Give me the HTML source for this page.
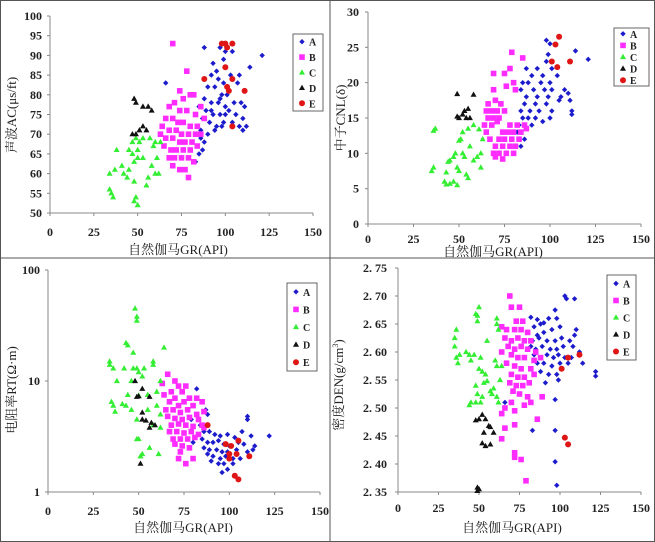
<!DOCTYPE html>
<html><head><meta charset="utf-8"><style>
html,body{margin:0;padding:0;background:#fff;}
svg{display:block;font-family:"Liberation Serif","Noto Serif CJK SC",serif;}
.tk{font-size:12px;font-weight:bold;fill:#222;}
.tt{font-size:13px;fill:#222;}
.lg{font-size:10px;font-weight:bold;fill:#222;}
</style></head><body>
<svg id="c" width="655" height="542" viewBox="0 0 655 542" xmlns="http://www.w3.org/2000/svg">
<rect x="0.5" y="0.5" width="654" height="541" fill="#fff" stroke="#555"/>
<line x1="330" y1="0" x2="330" y2="542" stroke="#555"/>
<line x1="0" y1="258" x2="655" y2="258" stroke="#555"/>
</svg>
<script>
const groups=['A','B','C','D','E'];
const xTicks=['0','25','50','75','100','125','150'];
const acTicks=['100','95','90','85','80','75','70','65','60','55','50'];
const cnlTicks=['30','25','20','15','10','5','0'];
const rtTicks=['100','10','1'];
const denTicks=['2. 75','2. 70','2. 65','2. 60','2. 55','2. 50','2. 45','2. 40','2. 35'];

const acA=[[88,92],[97,92],[100,91],[104,91],[99,89],[93,88],[95,86],[92,85],[96,84],[99,83],[103,85],[108,85],[107,83],[90,82],[94,82],[98,80],[101,80],[88,79],[92,78],[96,78],[100,77],[105,78],[109,78],[85,77],[89,76],[93,75],[97,75],[102,76],[106,75],[110,74],[87,74],[91,73],[95,72],[99,73],[104,73],[108,72],[112,72],[86,71],[90,70],[94,71],[98,72],[110,71],[88,68],[87,66],[85,65],[83,63],[121,90],[114,87],[97,79],[100,75],[92,76],[84,72],[86,69],[111,77],[66,83]];
const acB=[[70,93],[78,86],[74,81],[80,80],[82,80],[76,79],[71,78],[68,77],[74,76],[78,76],[83,75],[66,74],[70,74],[73,73],[76,73],[80,72],[84,72],[64,72],[68,71],[72,71],[75,70],[79,70],[83,70],[86,70],[66,69],[70,69],[74,68],[77,68],[81,68],[65,67],[69,66],[72,66],[76,66],[80,66],[84,67],[68,64],[71,64],[75,64],[79,64],[70,62],[74,61],[77,61],[82,63],[79,59],[63,70],[88,74],[86,77]];
const acC=[[35,55],[34,56],[36,54],[37,61],[34,60],[38,66],[41,62],[42,60],[45,66],[47,65],[45,61],[48,63],[50,64],[44,59],[48,58],[48,53],[49,54],[50,52],[51,68],[49,69],[50,66],[53,64],[55,57],[56,59],[53,69],[57,69],[59,67],[58,62],[60,60],[61,64],[62,60],[63,68],[60,68],[47,68]];
const acD=[[48,79],[49,78],[53,77],[56,77],[58,76],[47,70],[49,70],[51,71],[53,72],[55,71]];
const acE=[[98,93],[100,93],[104,93],[101,92],[100,87],[88,84],[104,84],[101,82],[102,81],[111,81],[104,72]];

const cnlA=[[98,26],[100,25.5],[114,24.5],[121,23.3],[99,24],[98,23],[87,22],[93,22],[101,22],[96,21],[90,21],[85,20],[88,20],[95,20],[100,20],[104,21],[84,19],[91,19],[97,19],[101,19],[108,19],[110,18.5],[87,18],[93,18],[99,18],[106,18],[111,17.5],[86,17],[92,17],[98,17],[105,17.5],[84,16],[89,16],[94,16],[101,16],[112,16],[85,15],[88,15],[92,15],[100,15],[83,14],[90,14],[96,14.5],[82,13],[86,12],[84,11],[112,15.5]];
const cnlB=[[79,24.3],[85,23.5],[78,22],[75,21.3],[69,21.3],[80,20],[76,19.5],[69,19],[81,19],[70,17.5],[66,17],[73,17],[65,16],[68,16],[71,16],[75,16],[66,15],[69,15],[72,15],[64,14],[68,14],[71,14.5],[78,14],[82,14],[86,14],[74,13],[77,13],[80,13],[84,13],[87,13.5],[72,12],[75,12],[79,12],[83,12],[70,11],[74,11],[78,11],[81,11],[69,10],[72,10],[76,10],[80,10],[70,9.5],[74,9.2],[67,12],[65,13]];
const cnlC=[[35,7.5],[36,8],[37,13.5],[36,13.2],[42,6],[43,5.6],[45,5.7],[47,6],[49,5.5],[43,7.3],[45,9],[47,9.5],[49,8],[50,7.5],[44,8.8],[48,10],[50,11.8],[51,12],[52,10],[53,9.5],[54,7],[55,6.5],[52,13],[55,13.5],[58,9],[60,9.5],[62,10],[61,13.4],[63,12],[62,8],[56,11],[58,14]];
const cnlD=[[49,18.4],[58,18.3],[49,15.2],[50,15],[52,15.5],[53,16],[55,16.3],[54,15],[56,15]];
const cnlE=[[105,26.5],[103,25.4],[101,23],[111,23],[104,22.2]];

const rtA=[[82,8.5],[85,6.5],[87,5.5],[88,5],[110,4.8],[110,4.5],[107,3.5],[112,3.2],[122,3.2],[89,3.5],[92,3.3],[95,3.2],[99,3.3],[103,3.1],[85,3],[88,2.8],[91,2.8],[94,2.9],[97,2.7],[100,2.6],[105,2.8],[108,2.7],[114,2.6],[86,2.5],[89,2.4],[93,2.4],[96,2.3],[99,2.3],[104,2.4],[110,2.3],[88,2.2],[91,2.1],[95,2.0],[98,2.1],[102,2.0],[106,2.0],[90,1.9],[94,1.8],[97,1.8],[99,1.6],[102,1.8],[96,1.5],[84,4],[79,4.5],[113,2.4],[86,3.5],[80,2.8]];
const rtB=[[66,11.5],[70,10],[72,9],[76,9],[68,8],[74,8],[64,7.5],[70,7],[78,7],[82,7],[67,6.5],[72,6],[75,6.5],[80,6],[85,6.5],[65,5.5],[69,5.5],[73,5.2],[77,5.5],[82,5],[86,5.3],[66,4.8],[70,4.6],[74,4.5],[78,4.7],[83,4.5],[68,4],[72,4.1],[76,4],[80,3.9],[85,4],[67,3.5],[71,3.5],[75,3.4],[79,3.5],[83,3.3],[69,3],[73,3],[77,3],[81,3.1],[70,2.7],[74,2.6],[78,2.5],[73,2.3],[72,2],[76,1.8],[80,2],[63,9.5],[86,3.8]];
const rtC=[[48,45],[49,38],[49,35],[43,22],[44,21],[64,20],[47,18],[34,15],[34,14],[36,13],[42,13],[47,13],[49,13],[50,12],[53,13],[58,15],[58,14],[52,11],[38,10],[62,10],[46,10],[60,8],[44,7.5],[50,7.4],[55,7.5],[35,6.5],[36,6],[41,6.2],[43,6],[37,5.3],[46,5.5],[55,5.5],[60,6],[62,5],[49,4.5],[58,4],[62,3.8],[49,3],[50,3],[51,2.1],[52,2.2],[61,2.2],[56,2.5]];
const rtD=[[48,10],[49,7.2],[50,7.3],[52,8.5],[56,7.2],[52,5.2],[52,4.5],[54,4.4],[56,3.8],[57,4.2],[59,4.0],[51,1.8]];
const rtE=[[88,4],[98,2.7],[101,2.6],[105,2.9],[100,2.2],[100,2.0],[104,2.2],[111,2.1],[103,1.4],[105,1.3]];

const denA=[[103,2.70],[104,2.695],[109,2.695],[97,2.675],[82,2.662],[86,2.658],[88,2.65],[90,2.652],[93,2.66],[84,2.645],[98,2.66],[100,2.645],[80,2.635],[86,2.63],[90,2.635],[95,2.64],[110,2.64],[83,2.62],[87,2.625],[92,2.62],[97,2.62],[101,2.625],[106,2.62],[109,2.63],[82,2.61],[85,2.605],[89,2.61],[94,2.605],[98,2.605],[102,2.61],[108,2.61],[84,2.595],[88,2.59],[92,2.595],[96,2.59],[99,2.595],[103,2.59],[107,2.59],[112,2.6],[86,2.58],[90,2.58],[95,2.575],[100,2.58],[105,2.58],[114,2.58],[88,2.565],[93,2.56],[98,2.56],[122,2.565],[122,2.557],[99,2.55],[80,2.52],[97,2.515],[66,2.51],[83,2.46],[97,2.46],[97,2.404],[98,2.362],[91,2.545]];
const denB=[[69,2.70],[70,2.68],[75,2.68],[73,2.655],[77,2.655],[64,2.645],[67,2.64],[72,2.64],[76,2.64],[80,2.635],[66,2.625],[70,2.62],[74,2.625],[78,2.62],[82,2.62],[68,2.61],[72,2.605],[76,2.61],[80,2.605],[85,2.6],[64,2.6],[70,2.595],[74,2.59],[78,2.59],[84,2.585],[88,2.59],[67,2.58],[72,2.575],[76,2.57],[82,2.57],[70,2.56],[74,2.555],[78,2.555],[84,2.56],[69,2.545],[73,2.54],[77,2.54],[81,2.545],[71,2.53],[75,2.525],[80,2.52],[89,2.52],[70,2.51],[66,2.5],[72,2.495],[78,2.505],[64,2.49],[82,2.51],[86,2.48],[72,2.47],[66,2.464],[64,2.445],[72,2.42],[72,2.412],[76,2.408],[79,2.37]];
const denC=[[50,2.68],[49,2.665],[48,2.668],[49,2.655],[36,2.64],[35,2.625],[35,2.61],[55,2.62],[38,2.595],[36,2.59],[37,2.58],[42,2.6],[44,2.595],[45,2.585],[47,2.595],[51,2.59],[61,2.66],[61,2.65],[62,2.64],[60,2.585],[61,2.575],[64,2.575],[50,2.57],[52,2.565],[54,2.56],[53,2.545],[55,2.548],[48,2.54],[57,2.53],[59,2.535],[58,2.525],[49,2.525],[52,2.52],[61,2.52],[62,2.51],[44,2.505],[45,2.51],[48,2.51],[51,2.51],[63,2.55]];
const denD=[[48,2.478],[50,2.48],[52,2.488],[54,2.48],[56,2.468],[57,2.466],[59,2.456],[53,2.456],[52,2.437],[54,2.432],[57,2.435],[49,2.358],[50,2.355],[49,2.352]];
const denE=[[105,2.59],[112,2.595],[101,2.57],[103,2.447],[105,2.435]];

const NS='http://www.w3.org/2000/svg';
const svg=document.getElementById('c');
function mk(tag,attrs,parent){const e=document.createElementNS(NS,tag);for(const k in attrs)e.setAttribute(k,attrs[k]);(parent||svg).appendChild(e);return e;}
const colors={A:'#1c1ccc',B:'#ff2cff',C:'#33ee33',D:'#111',E:'#e01515'};

function marker(g,grp,x,y){
  let e;
  if(grp==='A'){e=mk('polygon',{points:`${x},${y-2.7} ${x+2.7},${y} ${x},${y+2.7} ${x-2.7},${y}`,fill:colors.A},g);}
  else if(grp==='B'){e=mk('rect',{x:x-2.8,y:y-2.8,width:5.6,height:5.6,fill:colors.B},g);}
  else if(grp==='C'||grp==='D'){e=mk('polygon',{points:`${x},${y-3.2} ${x+3},${y+2.1} ${x-3},${y+2.1}`,fill:colors[grp]},g);}
  else {e=mk('circle',{cx:x,cy:y,r:3,fill:colors.E},g);}
  return e;
}

function panel(cfg){
  const g=mk('g',{});
  
  
  const xs=v=>cfg.x0+(v/150)*(cfg.x1-cfg.x0);
  const ys=cfg.log?(v=>cfg.yb-(Math.log10(v)-Math.log10(cfg.ymin))/(Math.log10(cfg.ymax)-Math.log10(cfg.ymin))*(cfg.yb-cfg.yt))
                 :(v=>cfg.yb-(v-cfg.ymin)/(cfg.ymax-cfg.ymin)*(cfg.yb-cfg.yt));
  const ax=mk('path',{d:`M${cfg.x0},${cfg.yt} L${cfg.x0},${cfg.yb} L${cfg.x1},${cfg.yb}`,stroke:'#888',fill:'none','stroke-width':1},g);
  
  
  xTicks.forEach((t,i)=>{
    const x=xs(+t);
    mk('line',{x1:x,y1:cfg.yb,x2:x,y2:cfg.yb+3,stroke:'#888'},g);
    const tx=mk('text',{x:x,y:cfg.xly,'text-anchor':'middle',class:'tk'},g);
    tx.textContent=t;
    
    
  });
  cfg.yTicks.forEach((t,i)=>{
    const y=cfg.yt+i*(cfg.yb-cfg.yt)/(cfg.yTicks.length-1);
    mk('line',{x1:cfg.x0-3,y1:y,x2:cfg.x0,y2:y,stroke:'#888'},g);
    const tx=mk('text',{x:cfg.ylx,y:y+4,'text-anchor':'end',class:'tk'},g);
    tx.textContent=t;
    
    
  });
  const xt=mk('text',{x:cfg.xtx,y:cfg.xty,'text-anchor':'middle',class:'tt'},g);
  xt.textContent='自然伽马GR(API)';
  
  
  const yt=mk('text',{x:0,y:0,'text-anchor':'middle',class:'tt',transform:`translate(${cfg.ytx},${cfg.yty}) rotate(-90)`},g);
  yt.innerHTML=cfg.ytitle;
  
  
  groups.forEach((grp,gi)=>{
    const sg=mk('g',{},g);
    
    
    cfg.data[gi].forEach(p=>{
      const m=marker(sg,grp,xs(p[0]),ys(p[1]));
      
      
    });
  });
  const L=cfg.leg;
  const lg=mk('g',{},g);
  
  
  mk('rect',{x:L[0],y:L[1],width:L[2],height:L[3],fill:'#fff',stroke:'#666'},lg);
  groups.forEach((grp,i)=>{
    const y=L[1]+L[3]*(i+0.5)/5;
    const e=mk('g',{},lg);
    
    
    marker(e,grp,L[0]+9,y);
    const t=mk('text',{x:L[0]+16,y:y+4,class:'lg'},e);
    t.textContent=grp;
  });
}

panel({name:'panel-ac',x0:50,x1:313,yt:16,yb:213,ymin:50,ymax:100,log:false,yTicks:acTicks,ylx:42,xly:236,
  xtx:178,xty:254,ytx:16,yty:115,ytitle:'声波AC(μs/ft)',data:[acA,acB,acC,acD,acE],leg:[293,34,30,77]});
panel({name:'panel-cnl',x0:368,x1:641,yt:12,yb:224,ymin:0,ymax:30,log:false,yTicks:cnlTicks,ylx:359,xly:243,
  xtx:493,xty:256,ytx:345,yty:118,ytitle:'中子CNL(δ)',data:[cnlA,cnlB,cnlC,cnlD,cnlE],leg:[614,28,35,58]});
panel({name:'panel-rt',x0:48,x1:320,yt:270,yb:492,ymin:1,ymax:100,log:true,yTicks:rtTicks,ylx:40,xly:515,
  xtx:183,xty:532,ytx:16,yty:390,ytitle:'电阻率RT(Ω·m)',data:[rtA,rtB,rtC,rtD,rtE],leg:[287,283,30,88]});
panel({name:'panel-den',x0:398,x1:641,yt:268,yb:492,ymin:2.35,ymax:2.75,log:false,yTicks:denTicks,ylx:387,xly:512,
  xtx:512,xty:532,ytx:343,yty:385,ytitle:'密度DEN(g/cm<tspan font-size="8" dy="-5">3</tspan><tspan dy="5">)</tspan>',data:[denA,denB,denC,denD,denE],leg:[607,275,29,85]});
</script>
</body></html>
